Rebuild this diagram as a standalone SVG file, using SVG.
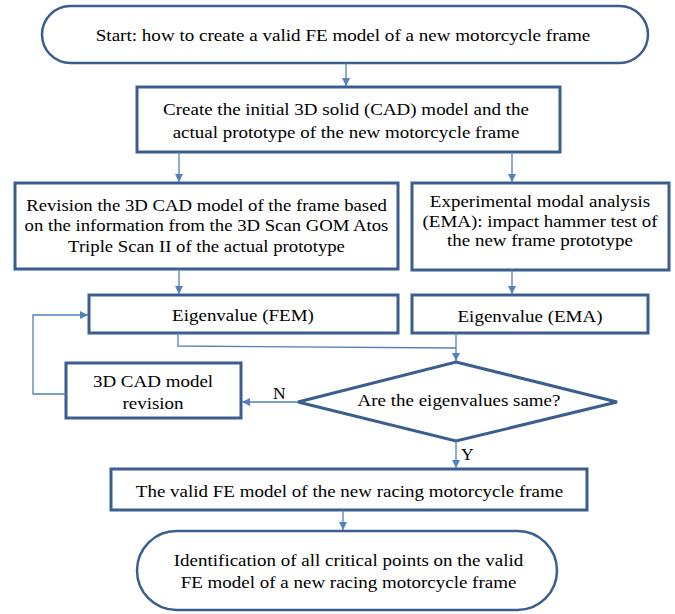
<svg xmlns="http://www.w3.org/2000/svg" width="675" height="614" viewBox="0 0 675 614">
<style>
.box{fill:#fff;stroke:#3A5F8E;stroke-width:3}
.pill{fill:#fff;stroke:#3A5F8E;stroke-width:2.5}
text{font-family:'Liberation Serif','Times New Roman',Times,'DejaVu Serif',serif;fill:#000;font-size:17.5px}
.t{text-anchor:middle}
.c{fill:none;stroke:#4F81BD;stroke-width:1.3}
</style>
<defs>
<marker id="ah" markerUnits="userSpaceOnUse" markerWidth="9" markerHeight="9" refX="8" refY="4" orient="auto">
<path d="M0,0 L8,4 L0,8 Z" fill="#4F81BD"/>
</marker>
</defs>
<g id="start">
<rect class="pill" x="42" y="6" width="606" height="57" rx="28.5"/>
<g transform="translate(343,0) scale(1.09,1)">
<text class="t" x="0" y="41">Start: how to create a valid FE model of a new motorcycle frame</text>
</g>
</g>
<g id="create">
<rect class="box" x="137" y="87" width="423" height="65"/>
<g transform="translate(346,0) scale(1.085,1)">
<text class="t" x="0" y="115">Create the initial 3D solid (CAD) model and the</text>
<text class="t" x="0" y="138">actual prototype of the new motorcycle frame</text>
</g>
</g>
<g id="revision">
<rect class="box" x="15" y="183" width="383" height="86"/>
<g transform="translate(206.5,0) scale(1.07,1)">
<text class="t" x="0" y="211">Revision the 3D CAD model of the frame based</text>
<text class="t" x="0" y="231">on the information from the 3D Scan GOM Atos</text>
<text class="t" x="0" y="252">Triple Scan II of the actual prototype</text>
</g>
</g>
<g id="ema">
<rect class="box" x="412" y="183" width="257" height="87"/>
<g transform="translate(540,0) scale(1.085,1)">
<text class="t" x="0" y="207">Experimental modal analysis</text>
<text class="t" x="0" y="227">(EMA): impact hammer test of</text>
<text class="t" x="0" y="246">the new frame prototype</text>
</g>
</g>
<g id="eig-fem">
<rect class="box" x="89" y="295" width="309" height="38"/>
<g transform="translate(243,0) scale(1.085,1)">
<text class="t" x="0" y="321">Eigenvalue (FEM)</text>
</g>
</g>
<g id="eig-ema">
<rect class="box" x="412" y="295" width="236" height="38"/>
<g transform="translate(530,0) scale(1.085,1)">
<text class="t" x="0" y="322">Eigenvalue (EMA)</text>
</g>
</g>
<g id="cad-revision">
<rect class="box" x="66" y="363" width="175" height="55"/>
<g transform="translate(153,0) scale(1.085,1)">
<text class="t" x="0" y="387">3D CAD model</text>
<text class="t" x="0" y="409">revision</text>
</g>
</g>
<g id="decision">
<polygon class="box" points="456,362 617,402 456,441 298,402"/>
<g transform="translate(459,0) scale(1.085,1)">
<text class="t" x="0" y="406">Are the eigenvalues same?</text>
</g>
</g>
<g id="valid">
<rect class="box" x="111" y="469" width="476" height="41"/>
<g transform="translate(349.5,0) scale(1.085,1)">
<text class="t" x="0" y="497">The valid FE model of the new racing motorcycle frame</text>
</g>
</g>
<g id="identification">
<rect class="pill" x="137" y="531" width="420" height="79" rx="39.5"/>
<g transform="translate(348.5,0) scale(1.085,1)">
<text class="t" x="0" y="566">Identification of all critical points on the valid</text>
<text class="t" x="0" y="588">FE model of a new racing motorcycle frame</text>
</g>
</g>
<g id="connectors">
<line class="c" x1="346" y1="63" x2="346" y2="86" marker-end="url(#ah)"/>
<line class="c" x1="179" y1="152" x2="179" y2="182" marker-end="url(#ah)"/>
<line class="c" x1="512" y1="152" x2="512" y2="182" marker-end="url(#ah)"/>
<line class="c" x1="179" y1="269" x2="179" y2="294" marker-end="url(#ah)"/>
<line class="c" x1="512" y1="270" x2="512" y2="294" marker-end="url(#ah)"/>
<polyline class="c" points="178,333 178,346 456,348"/>
<line class="c" x1="456" y1="333" x2="456" y2="361" marker-end="url(#ah)"/>
<line class="c" x1="298" y1="402" x2="242" y2="402" marker-end="url(#ah)"/>
<polyline class="c" points="66,394 33,394 33,315 88,315" marker-end="url(#ah)"/>
<line class="c" x1="456" y1="441" x2="456" y2="468" marker-end="url(#ah)"/>
<line class="c" x1="343" y1="510" x2="343" y2="530" marker-end="url(#ah)"/>
<text x="273" y="399">N</text>
<text x="461" y="460">Y</text>
</g>
</svg>
